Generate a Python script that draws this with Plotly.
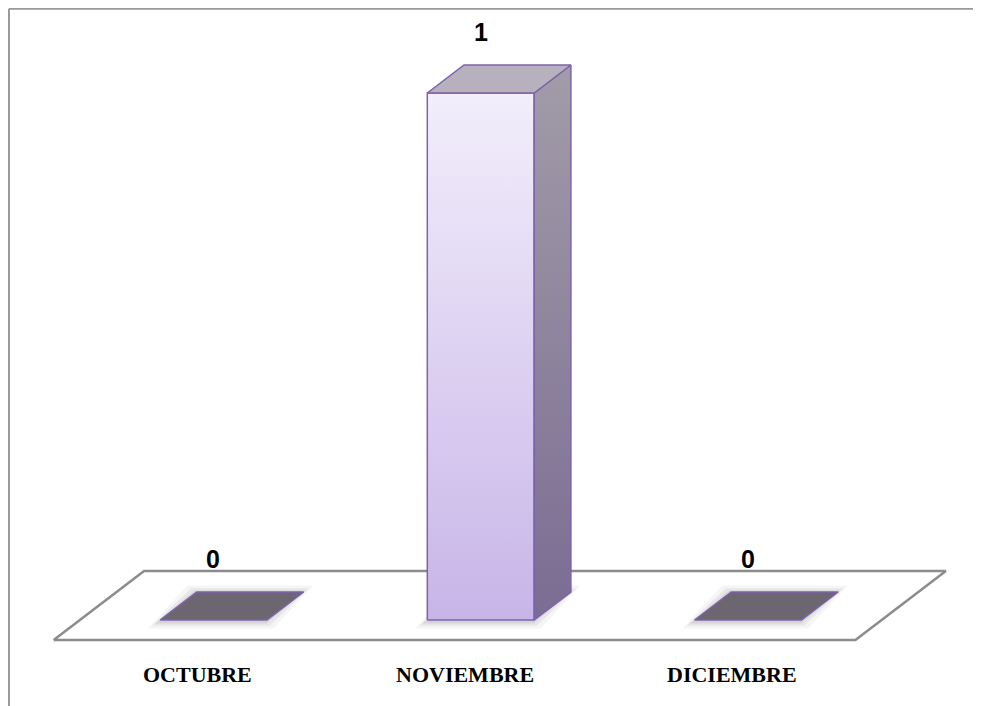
import plotly.graph_objects as go

# data
categories = ["OCTUBRE", "NOVIEMBRE", "DICIEMBRE"]
values = [0, 1, 0]

# fake 3d geometry (data units)
W = 0.2          # half bar width
DX = 0.1373      # depth offset along x
DY = 0.0531      # depth offset along y
FLOOR_FRONT = -0.714
FLOOR_BACK = 1.75

EDGE = "#7d62ad"
FLOOR_LINE = "#8c8c8c"

fig = go.Figure()


def poly(xs, ys, **kw):
    fig.add_trace(
        go.Scatter(
            x=xs + xs[:1],
            y=ys + ys[:1],
            mode="lines",
            fill="toself",
            hoverinfo="skip",
            showlegend=False,
            **kw,
        )
    )


# floor
n = len(categories)
fx0, fx1 = -0.5, n - 0.5
poly(
    [fx0 + FLOOR_FRONT * DX, fx1 + FLOOR_FRONT * DX, fx1 + FLOOR_BACK * DX, fx0 + FLOOR_BACK * DX],
    [FLOOR_FRONT * DY, FLOOR_FRONT * DY, FLOOR_BACK * DY, FLOOR_BACK * DY],
    fillcolor="white",
    line=dict(color=FLOOR_LINE, width=2.5),
)

# soft shadows under the bars
for i, v in enumerate(values):
    for grow, alpha in [(0.035, 0.05), (0.02, 0.07), (0.008, 0.1)]:
        gx = grow
        gy = grow * 0.35
        poly(
            [i - W - gx - 0.01, i + W + gx - 0.01, i + W + DX + gx, i - W + DX - gx],
            [-gy - 0.004, -gy - 0.004, DY + gy, DY + gy],
            fillcolor="rgba(60,60,60,%.2f)" % alpha,
            line=dict(width=0),
        )

# bars
for i, v in enumerate(values):
    if v > 0:
        # front face
        poly(
            [i - W, i + W, i + W, i - W],
            [0, 0, v, v],
            fillgradient=dict(type="vertical", colorscale=[[0, "#c8b5e8"], [1, "#f2eefb"]]),
            line=dict(color=EDGE, width=1.5),
        )
        # side face
        poly(
            [i + W, i + W + DX, i + W + DX, i + W],
            [0, DY, v + DY, v],
            fillgradient=dict(type="vertical", colorscale=[[0, "#7b6c93"], [1, "#a29ca8"]]),
            line=dict(color=EDGE, width=1.5),
        )
        top_color = "#b7b1bd"
    else:
        top_color = "#6b6670"
    # top face
    poly(
        [i - W, i + W, i + W + DX, i - W + DX],
        [v, v, v + DY, v + DY],
        fillcolor=top_color,
        line=dict(color=EDGE, width=1.5),
    )

# value labels
for i, v in enumerate(values):
    fig.add_annotation(
        x=i, y=v + DY, text="<b>%d</b>" % v, showarrow=False,
        yshift=33, font=dict(family="Liberation Sans", size=25, color="black"),
    )

# category labels
for i, c in enumerate(categories):
    fig.add_annotation(
        x=i, y=FLOOR_FRONT * DY, text="<b>%s</b>" % c, showarrow=False,
        xshift=-16, yshift=-35, font=dict(family="Liberation Serif", size=22, color="black"),
    )

# chart frame (left and top only)
fig.add_shape(type="line", xref="paper", yref="paper", x0=0.001, x1=0.001, y0=0, y1=0.999,
              line=dict(color="#999999", width=2))
fig.add_shape(type="line", xref="paper", yref="paper", x0=0.001, x1=1, y0=0.999, y1=0.999,
              line=dict(color="#999999", width=2))

# page body adds 8px margin, so the figure is 8px smaller on each side
fig.update_layout(
    width=973,
    height=698,
    margin=dict(l=0, r=0, t=0, b=0),
    paper_bgcolor="white",
    plot_bgcolor="white",
    xaxis=dict(range=[-0.7689, 2.8718], visible=False, fixedrange=True),
    yaxis=dict(range=[-0.1632, 1.1613], visible=False, fixedrange=True),
)

fig.write_html("out.html")
